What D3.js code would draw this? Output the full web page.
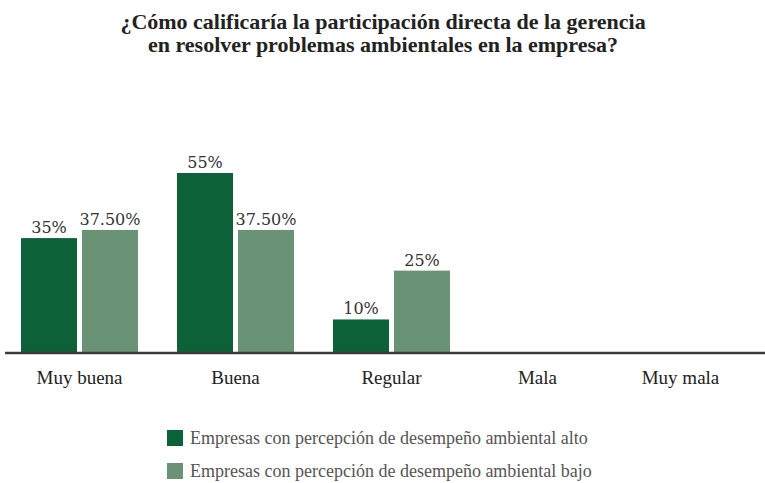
<!DOCTYPE html>
<html><head><meta charset="utf-8">
<script src="https://cdn.jsdelivr.net/npm/d3@7"></script>
<style>body{margin:0;background:#fff}svg{display:block}</style>
</head><body>
<script>
const categories = ["Muy buena","Buena","Regular","Mala","Muy mala"];
const seriesNames = ["Empresas con percepción de desempeño ambiental alto","Empresas con percepción de desempeño ambiental bajo"];
const altoValues = [35, 55, 10, null, null];
const bajoValues = [37.5, 37.5, 25, null, null];
const altoLabels = ["35%","55%","10%","",""];
const bajoLabels = ["37.50%","37.50%","25%","",""];
const titleLines = ["¿Cómo calificaría la participación directa de la gerencia","en resolver problemas ambientales en la empresa?"];

const W = 765, H = 483;
const colors = ["#0d6139", "#6a9275"];
const labelNudge = [0, 0, 0, -10, -23];

const svg = d3.select("body").append("svg").attr("width", W).attr("height", H);

const titleG = svg.append("g").attr("font-family","'Liberation Serif', serif").attr("font-weight","bold")
  .attr("font-size", 22).attr("fill","#222").attr("text-anchor","middle");
titleLines.forEach((t,i)=> titleG.append("text").attr("x", 383).attr("y", 29 + i*23).text(t));

const x0 = d3.scaleBand().domain(categories).range([1.5, 781.5]).paddingInner(0.25).paddingOuter(0.125);
const x1 = d3.scaleBand().domain([0,1]).range([0, x0.bandwidth()]).paddingInner(5/61);
const y = d3.scaleLinear().domain([0, 60]).range([352, 352 - 60*179/55]);

const series = [altoValues, bajoValues];
const labels = [altoLabels, bajoLabels];

series.forEach((vals, s) => {
  const data = categories.map((c,i)=>({c, v: vals[i], l: labels[s][i]})).filter(d=>d.v!=null);
  svg.append("g").selectAll("rect").data(data).join("rect")
    .attr("x", d=>x0(d.c)+x1(s)).attr("width", x1.bandwidth())
    .attr("y", d=>y(d.v)).attr("height", d=>y(0)-y(d.v)).attr("fill", colors[s]);
  svg.append("g").selectAll("text").data(data).join("text")
    .attr("x", d=>x0(d.c)+x1(s)+x1.bandwidth()/2).attr("y", d=>y(d.v)-5)
    .attr("text-anchor","middle").attr("font-family","'DejaVu Serif', serif").attr("font-size",16)
    .attr("fill","#333").text(d=>d.l);
});

svg.append("line").attr("x1",5).attr("x2",765).attr("y1",y(0)+1).attr("y2",y(0)+1)
  .attr("stroke","#3c3c3c").attr("stroke-width",2.5);

svg.append("g").selectAll("text").data(categories).join("text")
  .attr("x",(d,i)=>x0(d)+x0.bandwidth()/2+labelNudge[i]).attr("y",384)
  .attr("text-anchor","middle").attr("font-family","'Liberation Serif', serif").attr("font-size",19)
  .attr("fill","#222").text(d=>d);

const leg = svg.append("g");
seriesNames.forEach((n,i)=>{
  leg.append("rect").attr("x",167).attr("y",430+i*33).attr("width",16).attr("height",16).attr("fill",colors[i]);
  leg.append("text").attr("x",190).attr("y",444+i*33).attr("font-family","'Liberation Serif', serif")
    .attr("font-size",18).attr("fill","#555").text(n);
});
</script>
</body></html>
